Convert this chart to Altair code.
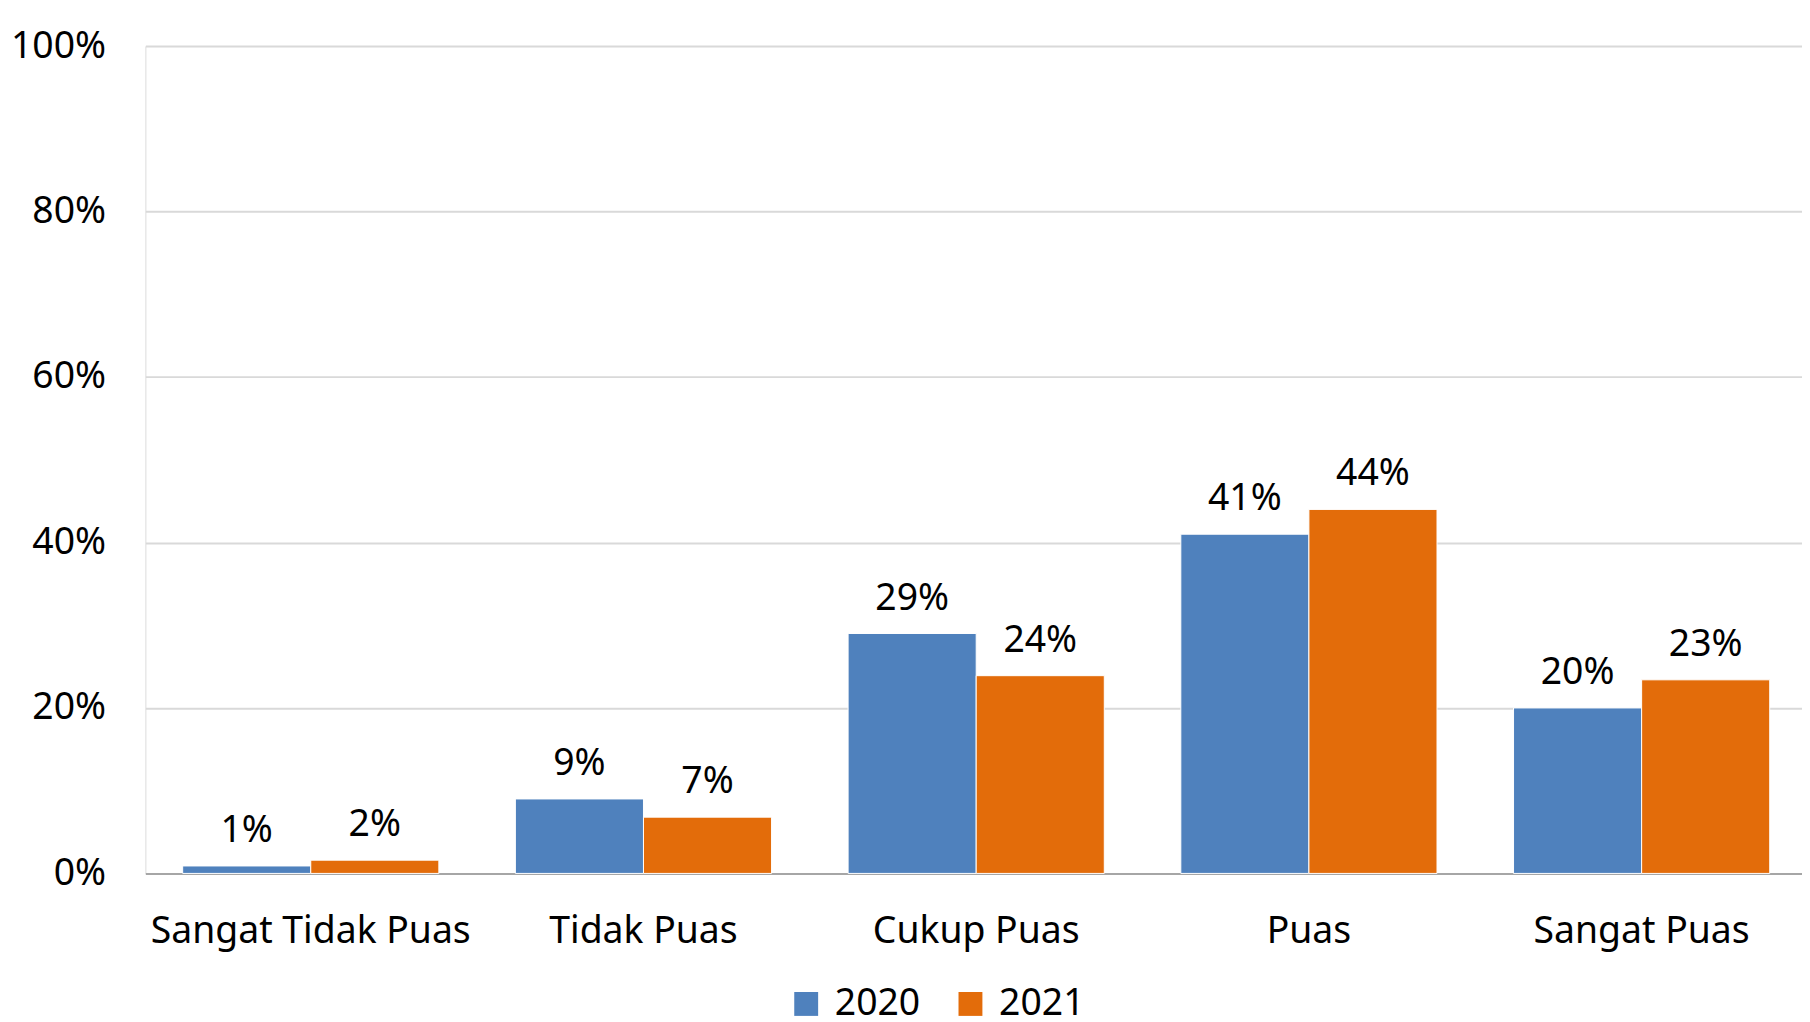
import altair as alt
import pandas as pd

categories = ["Sangat Tidak Puas", "Tidak Puas", "Cukup Puas", "Puas", "Sangat Puas"]
years = ["2020", "2021"]
values_2020 = [0.009, 0.090, 0.290, 0.410, 0.200]
values_2021 = [0.016, 0.068, 0.239, 0.440, 0.234]
colors = ["#4F81BD", "#E36C0A"]
y_ticks = [0, 0.2, 0.4, 0.6, 0.8, 1.0]

rows = []
for c, a, b in zip(categories, values_2020, values_2021):
    rows.append({"kategori": c, "tahun": "2020", "nilai": a})
    rows.append({"kategori": c, "tahun": "2021", "nilai": b})
df = pd.DataFrame(rows)

FONT = "Noto Sans"
FS = 37.5

x = alt.X("kategori:N", sort=categories, title=None,
          scale=alt.Scale(paddingInner=0.23, paddingOuter=0.1045, align=0.536),
          axis=alt.Axis(labelAngle=0, labelFontSize=FS, labelFont=FONT, labelColor="#000000",
                        labelBaseline="alphabetic", labelPadding=69, labelLimit=0, ticks=False,
                        domain=True, domainColor="#A6A6A6", domainWidth=2, grid=False))
y = alt.Y("nilai:Q", title=None,
          scale=alt.Scale(domain=[0, 1], nice=False),
          axis=alt.Axis(values=y_ticks, format=".0%", labelFontSize=FS, labelFont=FONT,
                        labelColor="#000000", labelPadding=40, ticks=False, domain=False,
                        grid=True, gridColor="#D9D9D9", gridWidth=2))
xo = alt.XOffset("tahun:N", sort=years, scale=alt.Scale(paddingInner=0, paddingOuter=0))
color = alt.Color("tahun:N", sort=years, title=None,
                  scale=alt.Scale(domain=years, range=colors),
                  legend=alt.Legend(orient="none", direction="horizontal", legendX=645, legendY=943,
                                    padding=0, symbolType="square", symbolSize=576, symbolStrokeWidth=0,
                                    labelFontSize=FS, labelFont=FONT, labelColor="#000000",
                                    labelOffset=10, columnPadding=31))

bars = alt.Chart(df).mark_bar(stroke="#FFFFFF", strokeWidth=1).encode(x=x, y=y, xOffset=xo, color=color)
labels = alt.Chart(df).mark_text(baseline="alphabetic", dy=-24, fontSize=FS, font=FONT, color="#000000").encode(
    x=alt.X("kategori:N", sort=categories), y="nilai:Q", xOffset=xo,
    text=alt.Text("nilai:Q", format=".0%"))

chart = (bars + labels).properties(
    width=1664, height=831,
    autosize=alt.AutoSizeParams(type="none"),
    padding={"left": 138, "top": 36, "right": 0, "bottom": 150},
).configure_view(stroke=None).configure(background="#FFFFFF")

chart.save("out.html", embed_options={"renderer": "svg", "actions": False})
